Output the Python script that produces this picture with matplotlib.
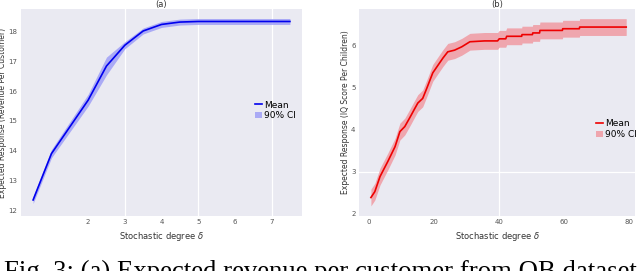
import matplotlib
matplotlib.use("Agg")
import matplotlib.pyplot as plt
import numpy as np

# ---- data: panel (a) ----
a_x = [0.5, 1.0, 1.5, 2.0, 2.5, 3.0, 3.5, 4.0, 4.5, 5.0, 5.5, 6.0, 6.5, 7.0, 7.5]
a_mean = [12.34, 13.9, 14.8, 15.7, 16.85, 17.55, 18.03, 18.25, 18.33, 18.35, 18.35, 18.35, 18.35, 18.35, 18.35]
a_half = [0.12, 0.14, 0.17, 0.2, 0.3, 0.12, 0.1, 0.1, 0.1, 0.1, 0.1, 0.1, 0.1, 0.1, 0.1]
a_xticks = [2, 3, 4, 5, 6, 7]
a_yticks = [12, 13, 14, 15, 16, 17, 18]

# ---- data: panel (b) ----
b_x = [0.6, 1.8, 3.4, 5.8, 8.0, 9.5, 11, 12.6, 14, 15, 16.5, 17.8, 19.6, 22.7, 24.2,
       26.3, 28.5, 31, 35.5, 39.5, 40, 42, 42.3, 46.9, 47, 50.2, 50.3, 52.4, 52.5,
       59.4, 59.5, 64.6, 64.7, 79]
b_mean = [2.39, 2.53, 2.89, 3.25, 3.6, 3.96, 4.08, 4.3, 4.5, 4.64, 4.75, 5.0, 5.36, 5.71, 5.86,
          5.9, 5.98, 6.1, 6.12, 6.12, 6.17, 6.17, 6.23, 6.23, 6.27, 6.27, 6.31, 6.31, 6.37,
          6.37, 6.41, 6.41, 6.45, 6.45]
b_half = 0.2
b_xticks = [0, 20, 40, 60, 80]
b_yticks = [2, 3, 4, 5, 6]

caption = "Fig. 3: (a) Expected revenue per customer from OB dataset"

fig = plt.figure(figsize=(6.4, 2.71), dpi=100)
bg = "#EAEAF2"
tick_kw = dict(labelsize=5, colors="#555555", length=0, pad=2.5)

def style(ax):
    ax.set_facecolor(bg)
    for s in ax.spines.values():
        s.set_visible(False)
    ax.tick_params(**tick_kw)

# panel (a)
ax1 = fig.add_axes([21/640, 55/271, 281/640, 207/271])
style(ax1)
for gx in [3, 5, 7]:
    ax1.axvline(gx, color="white", lw=0.9, zorder=0)
am = np.array(a_mean); ah = np.array(a_half)
ax1.fill_between(a_x, am - ah, am + ah, color="#9a9af7", alpha=0.8, lw=0, label="90% CI")
ax1.plot(a_x, a_mean, color="#0000ee", lw=1.2, label="Mean")
ax1.set_xlim(0.17, 7.83)
ax1.set_ylim(11.8, 18.77)
ax1.set_xticks(a_xticks)
ax1.set_yticks(a_yticks)
ax1.set_title("(a)", fontsize=6, pad=1.5, color="#333333")
ax1.set_xlabel("Stochastic degree $\\delta$", fontsize=6, color="#333333", labelpad=3)
ax1.set_ylabel("Expected Response (Revenue Per Customer)", fontsize=5.5, color="#333333", labelpad=1)
h, l = ax1.get_legend_handles_labels()
ax1.legend([h[1], h[0]], [l[1], l[0]], loc="center right", bbox_to_anchor=(1.0, 0.51),
           frameon=False, fontsize=6.5, handlelength=0.8, handletextpad=0.2,
           borderpad=0.2, labelspacing=0.2)

# panel (b)
ax2 = fig.add_axes([359/640, 55/271, 276/640, 207/271])
style(ax2)
ax2.axvline(40, color="white", lw=0.9, zorder=0)
ax2.axhline(3, color="white", lw=0.9, zorder=0)
bm = np.array(b_mean)
ax2.fill_between(b_x, bm - b_half, bm + b_half, color="#f09aa2", alpha=0.85, lw=0, label="90% CI")
ax2.plot(b_x, b_mean, color="#ee0000", lw=1.2, label="Mean")
ax2.set_xlim(-3.06, 81.7)
ax2.set_ylim(1.95, 6.88)
ax2.set_xticks(b_xticks)
ax2.set_yticks(b_yticks)
ax2.set_title("(b)", fontsize=6, pad=1.5, color="#333333")
ax2.set_xlabel("Stochastic degree $\\delta$", fontsize=6, color="#333333", labelpad=3)
ax2.set_ylabel("Expected Response (IQ Score Per Children)", fontsize=5.5, color="#333333", labelpad=1)
h, l = ax2.get_legend_handles_labels()
ax2.legend([h[1], h[0]], [l[1], l[0]], loc="center right", bbox_to_anchor=(1.03, 0.42),
           frameon=False, fontsize=6.5, handlelength=0.8, handletextpad=0.2,
           borderpad=0.2, labelspacing=0.2)

fig.text(0.006, -0.03, caption, fontsize=19.3, family="Liberation Serif",
         va="baseline", ha="left", color="black")

fig.savefig("out.png", dpi=100)
